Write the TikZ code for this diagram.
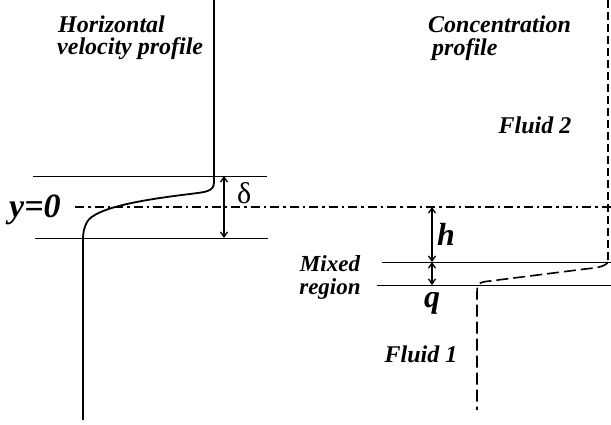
\documentclass[tikz,border=0pt]{standalone}
\usepackage{fontspec}
\setmainfont{Liberation Serif}
\usetikzlibrary{arrows.meta}

\begin{document}
\begin{tikzpicture}[
  x=1pt, y=-1pt,
  every node/.style={inner sep=0pt},
  lab/.style={font=\fontsize{24}{23}\selectfont\bfseries\itshape},
  biglab/.style={font=\fontsize{32}{32}\selectfont\bfseries\itshape},
  level/.style={line width=0.9pt},
  axisline/.style={line width=1.6pt, dash pattern=on 9pt off 4pt on 2.5pt off 4pt},
  velo/.style={line width=1.8pt},
  conc/.style={line width=1.6pt, dash pattern=on 12pt off 5pt},
  gap/.style={line width=1.3pt,
    {Straight Barb[length=5pt,width=7pt]}-{Straight Barb[length=5pt,width=7pt]}},
]
  \useasboundingbox (0,0) rectangle (611,424);

  %% Labels
  \node[lab, align=left, anchor=north west] (vellab) at (58,16)
    {Horizontal\\[-1pt]\hspace*{-1pt}velocity profile};
  \node[lab, align=left, anchor=north west] (conclab) at (428,16)
    {Concentration\\\hspace*{4pt}profile};
  \node[lab] (fluidtwo) at (535,125) {Fluid 2};
  \node[lab] (fluidone) at (421,354) {Fluid 1};
  \node[lab, font=\fontsize{23}{23}\selectfont\bfseries\itshape, anchor=base]
    (mixA) at (330,271) {Mixed};
  \node[lab, font=\fontsize{23}{23}\selectfont\bfseries\itshape, anchor=base]
    (mixB) at (330,294) {region};
  \node[biglab, font=\fontsize{34}{34}\selectfont\bfseries\itshape, anchor=base west]
    (ylab) at (9,217) {y=0};
  \node[font=\fontsize{30}{30}\selectfont, anchor=base west] (dlab) at (237,203) {δ};
  \node[biglab, anchor=base west] (hlab) at (437,245) {h};
  \node[biglab, anchor=base west] (qlab) at (424,307) {q};

  %% Levels
  \draw[level] (33,176) -- (267,176);
  \draw[level] (35,238) -- (268,238);
  \draw[level] (382,262) -- (611,262);
  \draw[level] (377,285) -- (611,285);
  \draw[axisline] (75,207) -- (611,207);

  %% Velocity profile
  \draw[velo] (214,0) -- (214,182)
    .. controls (214,192) and (205,192) .. (190,194)
    .. controls (140,200) and (95,208) .. (87,222)
    .. controls (84,228) and (83,232) .. (83,240) -- (83,420);

  %% Concentration profile
  \draw[conc, line width=2.2pt, dash pattern=on 8pt off 4pt] (608,0) -- (608,262);
  \draw[conc] (608,262)
    .. controls (605,267) and (595,268) .. (585,269) -- (490,281)
    .. controls (480,282) and (477,283) .. (477,292) -- (477,410);

  %% Thickness arrows
  \coordinate (dtop) at (224,176);
  \coordinate (dbot) at (224,238);
  \coordinate (htop) at (432,207);
  \coordinate (hbot) at (432,262);
  \coordinate (qbot) at (432,285);
  \draw[gap] (dtop) -- (dbot);
  \draw[gap] (htop) -- (hbot);
  \draw[gap] (hbot) -- (qbot);
\end{tikzpicture}
\end{document}
